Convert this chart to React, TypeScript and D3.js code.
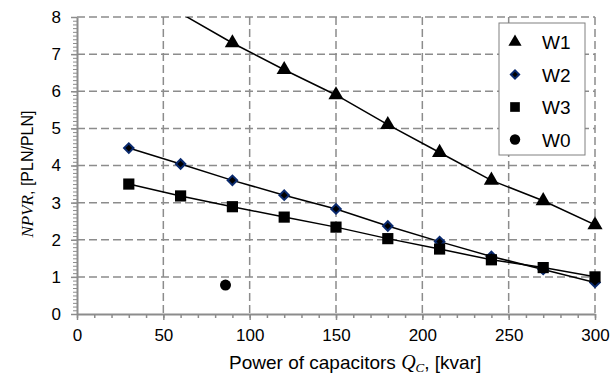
import { axisBottom, axisLeft, line, range, scaleLinear, select, symbol, symbolCircle, symbolSquare, symbolTriangle } from "d3";
import { useEffect, useRef } from "react";

const POWER = [30, 60, 90, 120, 150, 180, 210, 240, 270, 300];
const W1 = [8.95, 8.1, 7.3, 6.58, 5.9, 5.1, 4.35, 3.6, 3.05, 2.4];
const W2 = [4.47, 4.04, 3.6, 3.2, 2.83, 2.37, 1.95, 1.55, 1.2, 0.85];
const W3 = [3.5, 3.18, 2.89, 2.61, 2.34, 2.03, 1.75, 1.46, 1.25, 1.0];
const W0_POINT = { x: 86, y: 0.78 };
const X_TICKS = [0, 50, 100, 150, 200, 250, 300];
const Y_TICKS = [0, 1, 2, 3, 4, 5, 6, 7, 8];

const WIDTH = 613;
const HEIGHT = 376;
const FONT = "'Liberation Sans', Arial, sans-serif";
const SERIF = "'Liberation Serif', 'Times New Roman', serif";

export default function App() {
  const svgRef = useRef<SVGSVGElement | null>(null);

  useEffect(() => {
    if (!svgRef.current) return;
    const svg = select(svgRef.current);
    svg.selectAll("*").remove();

    const margin = { top: 17, right: 18, bottom: 62, left: 77 };
    const innerWidth = WIDTH - margin.left - margin.right;
    const innerHeight = HEIGHT - margin.top - margin.bottom;

    const x = scaleLinear().domain([0, 300]).range([0, innerWidth]);
    const y = scaleLinear().domain([0, 8]).range([innerHeight, 0]);

    const chart = svg.append("g").attr("transform", `translate(${margin.left},${margin.top})`);

    chart
      .append("defs")
      .append("clipPath")
      .attr("id", "plot-clip")
      .append("rect")
      .attr("width", innerWidth)
      .attr("height", innerHeight);

    // dashed grid
    const grid = chart.append("g").attr("stroke", "#8c8c8c").attr("stroke-width", 1.5).attr("stroke-dasharray", "8,4");
    grid
      .selectAll("line.h")
      .data(Y_TICKS.filter((t) => t > 0))
      .join("line")
      .attr("class", "h")
      .attr("x1", 0)
      .attr("x2", innerWidth)
      .attr("y1", (d) => y(d))
      .attr("y2", (d) => y(d));
    grid
      .selectAll("line.v")
      .data(X_TICKS.filter((t) => t > 0))
      .join("line")
      .attr("class", "v")
      .attr("x1", (d) => x(d))
      .attr("x2", (d) => x(d))
      .attr("y1", 0)
      .attr("y2", innerHeight);

    // minor ticks
    const yMinor = axisLeft(y)
      .tickValues(range(0, 80.5, 1).map((v) => v / 10))
      .tickSize(4)
      .tickFormat(() => "");
    chart
      .append("g")
      .call(yMinor)
      .call((g) => g.select(".domain").remove())
      .call((g) => g.selectAll("line").attr("stroke", "#8c8c8c"));
    const xMinor = axisBottom(x)
      .tickValues(range(0, 301, 10))
      .tickSize(4)
      .tickFormat(() => "");
    chart
      .append("g")
      .attr("transform", `translate(0,${innerHeight})`)
      .call(xMinor)
      .call((g) => g.select(".domain").remove())
      .call((g) => g.selectAll("line").attr("stroke", "#8c8c8c").attr("stroke-width", 1.5));

    const xAxis = axisBottom(x).tickValues(X_TICKS).tickSize(6).tickSizeOuter(0).tickPadding(9);
    const xg = chart.append("g").attr("transform", `translate(0,${innerHeight})`).call(xAxis);
    xg.select(".domain").attr("stroke", "#8c8c8c").attr("stroke-width", 2);
    xg.selectAll("line").attr("stroke", "#8c8c8c").attr("stroke-width", 1.5);
    xg.selectAll("text").attr("font-family", FONT).attr("font-size", 17).attr("fill", "#000");

    const yAxis = axisLeft(y).tickValues(Y_TICKS).tickSize(6).tickSizeOuter(0).tickPadding(10);
    const yg = chart.append("g").call(yAxis);
    yg.select(".domain").attr("stroke", "#8c8c8c").attr("stroke-width", 2);
    yg.selectAll("line").attr("stroke", "#8c8c8c").attr("stroke-width", 1.5);
    yg.selectAll("text").attr("font-family", FONT).attr("font-size", 17).attr("fill", "#000");

    const plot = chart.append("g").attr("clip-path", "url(#plot-clip)");
    const lineGen = line<[number, number]>()
      .x((d) => x(d[0]))
      .y((d) => y(d[1]));

    const seriesList = [
      { name: "W1", values: W1, shape: symbolTriangle, size: 100, rotate: 0, stroke: "none" },
      { name: "W2", values: W2, shape: symbolSquare, size: 45, rotate: 45, stroke: "#0a2a6e" },
      { name: "W3", values: W3, shape: symbolSquare, size: 125, rotate: 0, stroke: "none" },
    ];

    for (const s of seriesList) {
      const pts = POWER.map((p, i) => [p, s.values[i]] as [number, number]);
      plot
        .append("path")
        .attr("d", lineGen(pts))
        .attr("fill", "none")
        .attr("stroke", "#000")
        .attr("stroke-width", 1.5);
    }
    for (const s of seriesList) {
      const pts = POWER.map((p, i) => [p, s.values[i]] as [number, number]).filter((d) => d[1] <= 8);
      chart
        .append("g")
        .selectAll("path")
        .data(pts)
        .join("path")
        .attr("transform", (d) => `translate(${x(d[0])},${y(d[1])}) rotate(${s.rotate})`)
        .attr("d", symbol().type(s.shape).size(s.size)())
        .attr("fill", "#000")
        .attr("stroke", s.stroke)
        .attr("stroke-width", 2);
    }
    chart
      .append("path")
      .attr("transform", `translate(${x(W0_POINT.x)},${y(W0_POINT.y)})`)
      .attr("d", symbol().type(symbolCircle).size(95)())
      .attr("fill", "#000");

    // legend
    const legend = svg.append("g").attr("transform", "translate(499,23)");
    legend
      .append("rect")
      .attr("width", 86)
      .attr("height", 132)
      .attr("fill", "#fff")
      .attr("stroke", "#808080")
      .attr("stroke-width", 1);
    const legendItems = [
      ...seriesList.map((s) => ({ name: s.name, shape: s.shape, size: s.size * 0.75, rotate: s.rotate, stroke: s.stroke })),
      { name: "W0", shape: symbolCircle, size: 85, rotate: 0, stroke: "none" },
    ];
    legendItems.forEach((item, i) => {
      const cy = 19 + i * 32.5;
      legend
        .append("path")
        .attr("transform", `translate(16,${cy}) rotate(${item.rotate})`)
        .attr("d", symbol().type(item.shape).size(item.size)())
        .attr("fill", "#000")
        .attr("stroke", item.stroke)
        .attr("stroke-width", 2);
      legend
        .append("text")
        .attr("x", 43)
        .attr("y", cy + 7)
        .attr("font-family", FONT)
        .attr("font-size", 19)
        .text(item.name);
    });

    // axis titles
    const xTitle = svg
      .append("text")
      .attr("x", 229)
      .attr("y", 369)
      .attr("font-family", FONT)
      .attr("font-size", 19);
    xTitle.append("tspan").text("Power of capacitors ");
    xTitle.append("tspan").attr("font-family", SERIF).attr("font-style", "italic").attr("font-size", 20).text("Q");
    xTitle
      .append("tspan")
      .attr("font-family", SERIF)
      .attr("font-style", "italic")
      .attr("font-size", 13)
      .attr("dy", 3)
      .text("C");
    xTitle.append("tspan").attr("dy", -3).text(", [kvar]");

    const yTitle = svg
      .append("text")
      .attr("transform", "rotate(-90)")
      .attr("x", -174)
      .attr("y", 33)
      .attr("text-anchor", "middle")
      .attr("font-family", FONT)
      .attr("font-size", 16);
    yTitle.append("tspan").attr("font-family", SERIF).attr("font-style", "italic").attr("font-size", 17).text("NPVR");
    yTitle.append("tspan").text(", [PLN/PLN]");
  }, []);

  return (
    <svg
      ref={svgRef}
      width={WIDTH}
      height={HEIGHT}
      style={{ position: "absolute", left: 0, top: 0, background: "#fff" }}
    />
  );
}
